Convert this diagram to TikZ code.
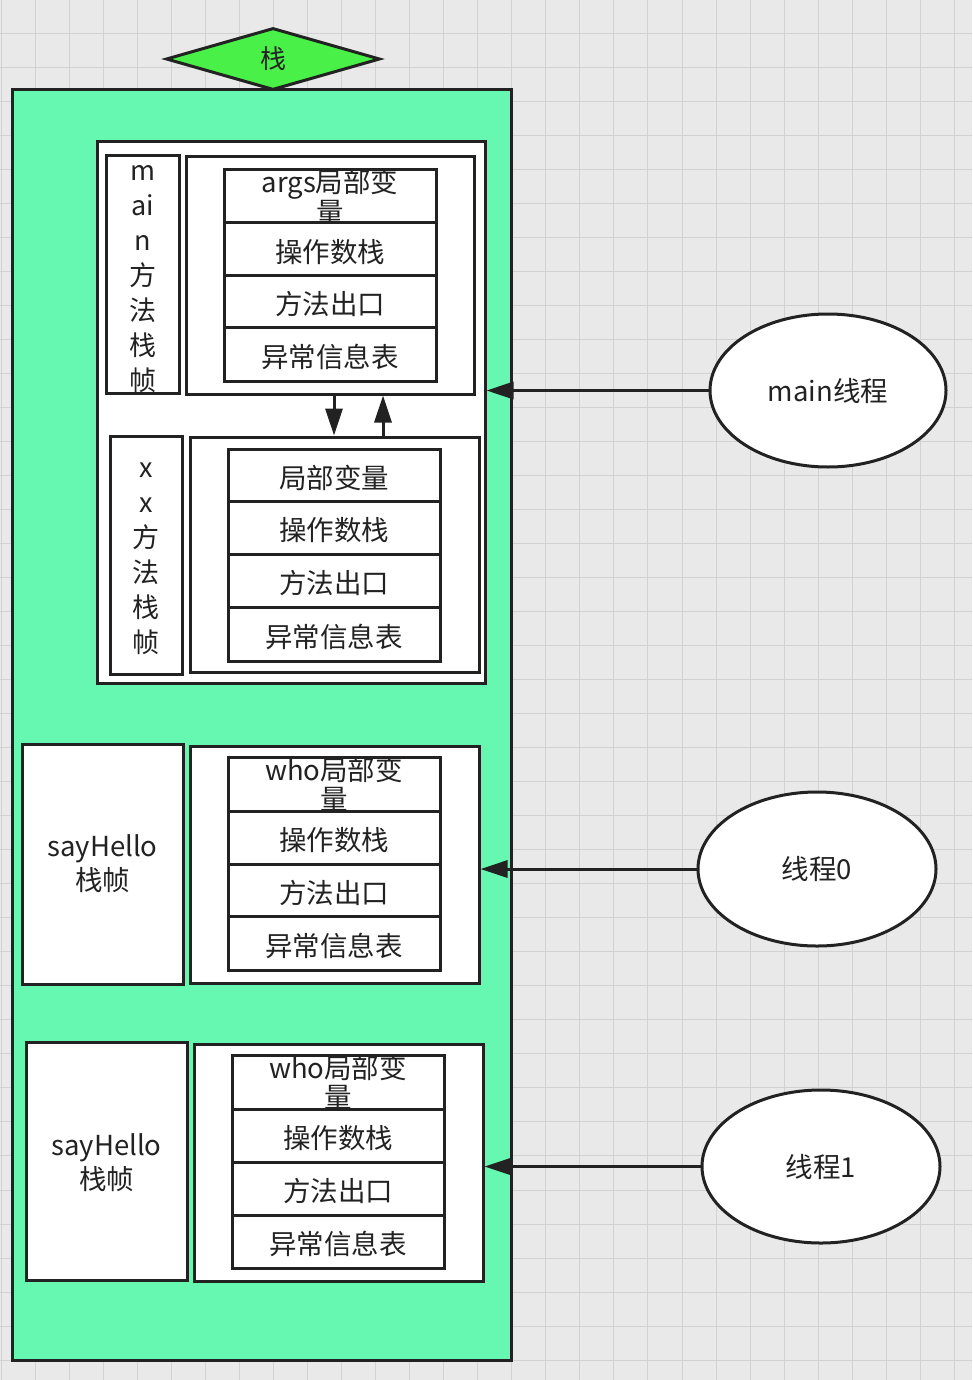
\documentclass[tikz,border=0pt]{standalone}
\usepackage{fontspec}
\setmainfont{Noto Sans CJK SC}
\usetikzlibrary{shapes.geometric,arrows.meta}

\definecolor{canvas}{HTML}{E9E9E9}
\definecolor{gridc}{HTML}{D2D2D2}
\definecolor{stackgreen}{HTML}{66F8B0}
\definecolor{diamondgreen}{HTML}{48F048}
\definecolor{ink}{HTML}{222222}

\tikzset{
  every node/.style={inner sep=0pt, text=ink, font=\fontsize{27.5}{29}\selectfont},
  gridline/.style={draw=gridc, line width=1pt},
  box/.style={draw=ink, line width=3pt, fill=white, rectangle},
  cell/.style={box, minimum width=212pt, align=center},
  onecell/.style={cell, text height=29pt, text depth=3pt},
  framebox/.style={box, align=center},
  vlabel/.style={align=center, font=\fontsize{27}{35}\selectfont},
  thread/.style={draw=ink, line width=3pt, fill=white, ellipse},
  link/.style={draw=ink, line width=3pt, -{Triangle[length=27pt,width=17pt]}},
}

\begin{document}
\begin{tikzpicture}[x=1pt,y=-1pt]
\useasboundingbox (0,0) rectangle (972,1380);
\fill[canvas] (0,0) rectangle (972,1380);
\foreach \i in {0,...,28} \draw[gridline] ({1+34.05*\i},0) -- ({1+34.05*\i},1380);
\foreach \j in {1,...,40} \draw[gridline] (0,{-0.7+34.02*\j}) -- (972,{-0.7+34.02*\j});

% the stack
\node[draw=ink, line width=3pt, fill=stackgreen, minimum width=499pt, minimum height=1270pt] (stack) at (261.5,725) {};
\node[shape=diamond, draw=ink, line width=3pt, fill=diamondgreen, aspect=3.45,
      minimum width=214pt, minimum height=62pt, font=\fontsize{26}{29}\selectfont] (title) at (273,59) {\raisebox{-2pt}{栈}};

% main method frame with the nested xx frame
\node[box, minimum width=388pt, minimum height=541pt] (mainframe) at (291,412.5) {};
\node[box, minimum width=73pt, minimum height=237pt] (mainlabel) at (142.5,274.5) {};
\node[vlabel] (mainlabeltext) at ([yshift=-5pt]mainlabel.center) {m\\ai\\n\\方\\法\\栈\\帧};
\node[box, minimum width=288pt, minimum height=237pt] (mainslots) at (330,275.5) {};
\node[cell, minimum height=53pt] (m1) at (330,196.5) {args局部变\\量};
\node[onecell, minimum height=52pt] (m2) at (330,249) {操作数栈};
\node[onecell, minimum height=52pt] (m3) at (330,301) {方法出口};
\node[onecell, minimum height=54pt] (m4) at (330,354) {异常信息表};

\node[box, minimum width=72pt, minimum height=238pt] (xxlabel) at (146,555) {};
\node[vlabel] (xxlabeltext) at ([yshift=-4pt]xxlabel.center) {x\\x\\方\\法\\栈\\帧};
\node[box, minimum width=289pt, minimum height=235pt] (xxslots) at (334.5,554.5) {};
\node[onecell, minimum height=52pt] (x1) at (334,475) {局部变量};
\node[onecell, minimum height=53pt] (x2) at (334,527.5) {操作数栈};
\node[onecell, minimum height=53pt] (x3) at (334,580.5) {方法出口};
\node[onecell, minimum height=54pt] (x4) at (334,634) {异常信息表};

\coordinate (callA) at (334,0);
\coordinate (retA) at (383,0);
\draw[link] (mainslots.south -| callA) -- (xxslots.north -| callA);
\draw[link] (xxslots.north -| retA) -- (mainslots.south -| retA);

% first sayHello frame
\node[framebox, minimum width=161pt, minimum height=240pt, font=\fontsize{27.5}{34}\selectfont] (hello1) at (102.5,864) {sayHello\\栈帧};
\node[box, minimum width=289pt, minimum height=237pt] (slots1) at (334.5,864.5) {};
\node[cell, minimum height=53pt] (a1) at (334,784.5) {who局部变\\量};
\node[onecell, minimum height=53pt] (a2) at (334,837.5) {操作数栈};
\node[onecell, minimum height=52pt] (a3) at (334,890) {方法出口};
\node[onecell, minimum height=54pt] (a4) at (334,943) {异常信息表};

% second sayHello frame
\node[box, minimum width=161pt, minimum height=238pt] (hello2) at (106.5,1161) {};
\node[align=center, font=\fontsize{27.5}{34}\selectfont] (hello2text) at ([yshift=-2pt]hello2.center) {sayHello\\栈帧};
\node[box, minimum width=289pt, minimum height=237pt] (slots2) at (338.5,1162.5) {};
\node[cell, minimum height=54pt] (b1) at (338,1082) {who局部变\\量};
\node[onecell, minimum height=53pt] (b2) at (338,1135.5) {操作数栈};
\node[onecell, minimum height=53pt] (b3) at (338,1188.5) {方法出口};
\node[onecell, minimum height=53pt] (b4) at (338,1241.5) {异常信息表};

% threads
\node[thread, minimum width=236pt, minimum height=153pt] (tmain) at (828,390.5) {main线程};
\node[thread, minimum width=238pt, minimum height=154pt] (t0) at (817,869) {线程0};
\node[thread, minimum width=238pt, minimum height=153pt] (t1) at (821,1166.5) {线程1};

\draw[link] (tmain.west) -- (tmain.west -| mainframe.east);
\draw[link] (t0.west) -- (t0.west -| slots1.east);
\draw[link] (t1.west) -- (t1.west -| slots2.east);
\end{tikzpicture}
\end{document}
